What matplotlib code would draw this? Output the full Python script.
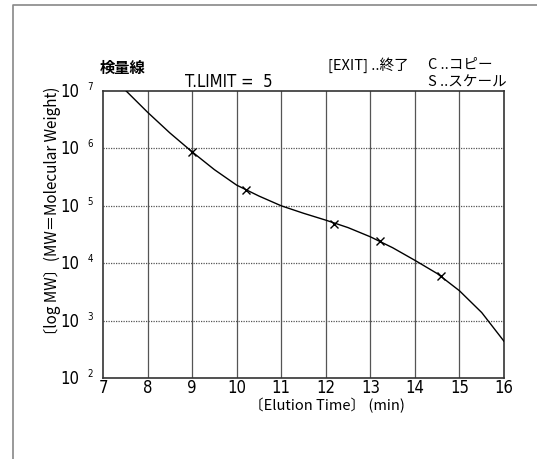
import matplotlib
matplotlib.use('Agg')
import matplotlib.pyplot as plt
from matplotlib.lines import Line2D

# ── Data ──────────────────────────────────────────────────────────────────────
curve_t     = [7.52, 8.0, 8.5, 9.0, 9.5, 10.0, 10.5, 11.0, 11.5, 12.0,
               12.5, 13.0, 13.5, 14.0, 14.5, 15.0, 15.5, 16.0]
curve_logmw = [7.00, 6.63, 6.27, 5.94, 5.63, 5.36, 5.17, 5.00, 4.87, 4.75,
               4.62, 4.46, 4.27, 4.05, 3.82, 3.52, 3.14, 2.64]
std_t       = [9.0, 10.21, 12.18, 13.21, 14.58]
std_logmw   = [5.93, 5.27, 4.69, 4.38, 3.77]
x_ticks     = [7, 8, 9, 10, 11, 12, 13, 14, 15, 16]
y_exps      = [2, 3, 4, 5, 6, 7]

NARROW = dict(family=['DejaVu Sans'], stretch='condensed')
JP     = dict(family=['Noto Sans CJK JP', 'DejaVu Sans'])

# ── Figure ────────────────────────────────────────────────────────────────────
fig = plt.figure(figsize=(5.37, 4.59), dpi=100)
fig.patch.set_facecolor('white')

# outer panel frame (left + top edges)
fig.add_artist(Line2D([13/537, 13/537, 1.0], [0.0, 1 - 5/459, 1 - 5/459],
                      transform=fig.transFigure, color='#888888', lw=1.2))

ax = fig.add_axes([103/537, 1 - 378/459, 401/537, 287/459])
ax.set_xlim(7, 16)
ax.set_ylim(2, 7)

for t in x_ticks[1:-1]:
    ax.axvline(t, color='#555555', lw=0.9, zorder=1)
for e in y_exps[1:-1]:
    ax.axhline(e, color='#555555', lw=0.9, ls=(0, (1, 1)), zorder=1)

ax.plot(curve_t, curve_logmw, color='black', lw=1.0, zorder=3)
ax.plot(std_t, std_logmw, ls='none', marker='x', ms=6, mew=1.0,
        color='black', zorder=4)

for s in ax.spines.values():
    s.set_color('#333333')
    s.set_linewidth(1.2)

ax.set_xticks(x_ticks)
ax.set_xticklabels([str(t) for t in x_ticks], fontsize=12, **NARROW)
ax.set_yticks(y_exps)
ax.set_yticklabels(['' for _ in y_exps])
ax.tick_params(length=0, pad=1)

# y tick labels: "10" with small exponent
for e in y_exps:
    ax.annotate('10', xy=(0, e), xycoords=('axes fraction', 'data'),
                xytext=(-24, -1), textcoords='offset pixels',
                ha='right', va='center', fontsize=12, **NARROW)
    ax.annotate(str(e), xy=(0, e), xycoords=('axes fraction', 'data'),
                xytext=(-10, 4), textcoords='offset pixels',
                ha='right', va='center', fontsize=7, **NARROW)

# ── Labels / header text ─────────────────────────────────────────────────────
fig.text(327/537, 1 - 406/459, '〔Elution Time〕 (min)', ha='center', va='center',
         fontsize=10.5, **JP)
fig.text(52/537, 1 - 215/459, '〔log MW〕(MW＝Molecular Weight)', ha='center',
         va='center', rotation=90, fontsize=11, **JP)

fig.text(100/537, 1 - 68/459, '検量線', ha='left', va='center',
         fontsize=11, fontweight='bold', **JP)
fig.text(185/537, 1 - 82/459, 'T.LIMIT =  5', ha='left', va='center',
         fontsize=12, **NARROW)
fig.text(328/537, 1 - 65/459, '[EXIT] ..終了', ha='left', va='center',
         fontsize=10.5, **JP)
fig.text(428/537, 1 - 65/459, 'C ..コピー', ha='left', va='center',
         fontsize=10.5, **JP)
fig.text(428/537, 1 - 83/459, 'S ..スケール', ha='left', va='center',
         fontsize=10.5, **JP)

plt.savefig('out.png', dpi=100, facecolor='white')
plt.close()
